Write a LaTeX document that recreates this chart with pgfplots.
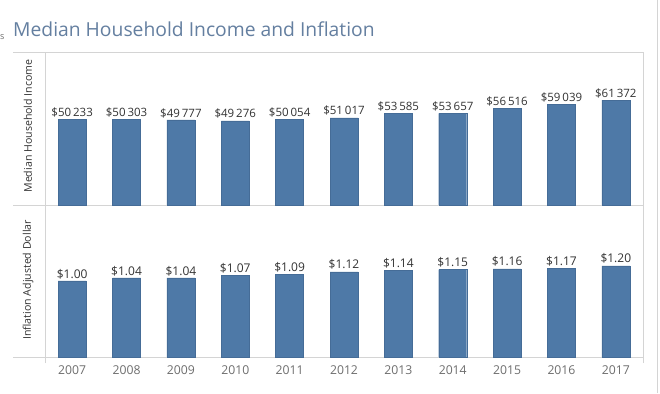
\documentclass[border=0pt]{standalone}
\usepackage{pgfplots}
\pgfplotsset{compat=1.18}
\usepackage{fontspec}
\setmainfont{Open Sans}
\definecolor{barblue}{HTML}{4E79A7}
\definecolor{baredge}{HTML}{456C97}
\definecolor{titleblue}{HTML}{647FA0}
\definecolor{gridgray}{HTML}{D4D4D4}
\definecolor{labgray}{HTML}{333333}
\definecolor{yeargray}{HTML}{6E6E6E}
\begin{document}
\begin{tikzpicture}[x=1pt,y=1pt]
\useasboundingbox (0,0) rectangle (660,393);
\fill[white] (0,0) rectangle (660,393);
% frame lines
\draw[gridgray, line width=0.8pt] (13,341) -- (643,341);
\draw[gridgray, line width=0.8pt] (13,188) -- (643,188);
\draw[gridgray, line width=0.8pt] (13,36) -- (643,36);
\draw[gridgray, line width=0.8pt] (45,30) -- (45,341);
\draw[gridgray, line width=0.8pt] (643,30) -- (643,341);
\draw[gridgray, line width=0.8pt] (657,0) -- (657,393);
% title
\node[anchor=base west, inner sep=0, text=titleblue, font=\fontsize{19.3}{22}\selectfont] at (13,356) {Median Household Income and Inflation};
\node[anchor=base west, inner sep=0, text=yeargray, font=\fontsize{9}{10}\selectfont] at (0,353) {s};
% y labels
\node[rotate=90, text=labgray, font=\fontsize{10.6}{13}\selectfont, inner sep=0] at (28,267) {Median Household Income};
\node[rotate=90, text=labgray, font=\fontsize{10.6}{13}\selectfont, inner sep=0] at (28,113) {Inflation Adjusted Dollar};

\begin{axis}[at={(45pt,188pt)}, anchor=south west,
  width=598pt, height=153pt, scale only axis,
  xmin=-0.5, xmax=10.5, ymin=0, ymax=89500,
  hide axis, clip=false,
  ybar, bar width=28pt,
  nodes near coords, point meta=explicit symbolic,
  every node near coord/.append style={font=\fontsize{11.5}{12}\selectfont, text=labgray, inner sep=2pt}]
\addplot[fill=barblue, draw=baredge] coordinates {
 (0,50233)[\$50\,233] (1,50303)[\$50\,303] (2,49777)[\$49\,777] (3,49276)[\$49\,276]
 (4,50054)[\$50\,054] (5,51017)[\$51\,017] (6,53585)[\$53\,585] (7,53657)[\$53\,657]
 (8,56516)[\$56\,516] (9,59039)[\$59\,039] (10,61372)[\$61\,372]};
\end{axis}

\begin{axis}[at={(45pt,36pt)}, anchor=south west,
  width=598pt, height=152pt, scale only axis,
  xmin=-0.5, xmax=10.5, ymin=0, ymax=2.0,
  axis line style={draw=none}, clip=false,
  ytick=\empty, xtick={0,...,10}, major tick length=0pt,
  xticklabels={2007,2008,2009,2010,2011,2012,2013,2014,2015,2016,2017},
  xticklabel style={font=\fontsize{12.2}{13}\selectfont, text=yeargray, inner sep=0pt, yshift=-8pt},
  ybar, bar width=28pt,
  nodes near coords, point meta=explicit symbolic,
  every node near coord/.append style={font=\fontsize{12}{12}\selectfont, text=labgray, inner sep=2pt}]
\addplot[fill=barblue, draw=baredge] coordinates {
 (0,1.00)[\$1.00] (1,1.04)[\$1.04] (2,1.04)[\$1.04] (3,1.07)[\$1.07]
 (4,1.09)[\$1.09] (5,1.12)[\$1.12] (6,1.14)[\$1.14] (7,1.15)[\$1.15]
 (8,1.16)[\$1.16] (9,1.17)[\$1.17] (10,1.20)[\$1.20]};
\end{axis}
\end{tikzpicture}
\end{document}
